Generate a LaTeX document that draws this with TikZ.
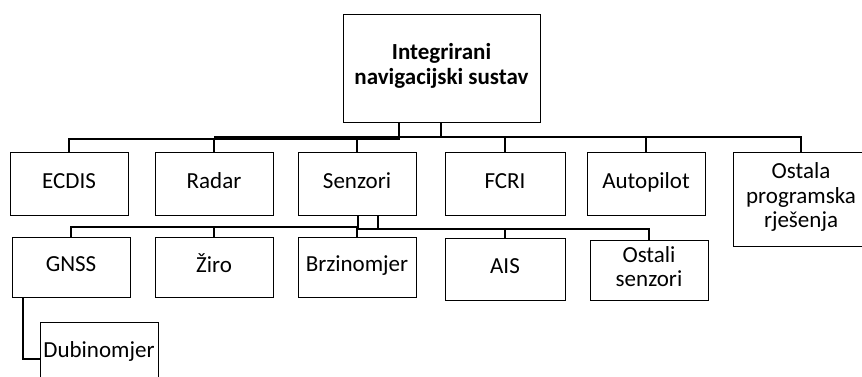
\documentclass[tikz,border=0pt]{standalone}
\usepackage{fontspec}
\setmainfont{Carlito}
\usetikzlibrary{positioning}
\tikzset{
  % plain boxes of the tree, and the heavy elbow links between them
  box/.style  = {draw, line width=1pt, minimum width=118pt, minimum height=62pt,
                 inner sep=2pt, align=center, font=\fontsize{23}{24.5}\selectfont,
                 execute at begin node=\strut, execute at end node=\strut},
  link/.style = {line width=2pt, line join=miter},
}

\begin{document}
\begin{tikzpicture}[x=1pt, y=-1pt]
  \useasboundingbox (0,0) rectangle (862,376);
  % root
  \node[box, minimum width=197pt, minimum height=108pt, font=\fontsize{23}{25}\selectfont\bfseries]
    (ins) at (441.5,68) {Integrirani\\navigacijski sustav};
  % first level
  \node[box, minimum height=63pt] (ecdis) at (69,183.5)  {ECDIS};
  \node[box, minimum height=63pt] (radar) at (214,183.5) {Radar};
  \node[box, minimum height=63pt] (senz)  at (357,183.5) {Senzori};
  \node[box, minimum height=63pt, minimum width=120pt] (fcri) at (505,183.5) {FCRI};
  \node[box, minimum height=63pt] (auto)  at (646,183.5) {Autopilot};
  \node[box, minimum height=94pt, minimum width=136pt] (prog) at (801,199) {Ostala\\programska\\rješenja};
  % second level, under the sensors
  \node[box, minimum height=60pt] (gnss) at (71,267)  {GNSS};
  \node[box, minimum height=60pt] (ziro) at (214,267) {Žiro};
  \node[box, minimum height=60pt] (brz)  at (357,267) {Brzinomjer};
  \node[box, minimum width=120pt] (ais)  at (505,269) {AIS};
  \node[box, minimum height=60pt] (osen) at (649,270) {Ostali\\senzori};
  \node[box] (dub) at (99,353) {Dubinomjer};

  % bus points
  \coordinate (hubL) at (399,139);
  \coordinate (hubR) at (441,137);
  \coordinate (subL) at (358,227);
  \coordinate (subR) at (378,229);
  \coordinate (drop) at (23,0);

  % root -> first level
  \foreach \n in {ecdis,radar,senz}
    \draw[link] (ins.south -| hubL) -- (hubL) -| (\n.north);
  \foreach \n in {fcri,auto,prog}
    \draw[link] (ins.south -| hubR) -- (hubR) -| (\n.north);
  \draw[link] (hubR) -- (radar.north |- hubR);
  % sensors -> second level
  \foreach \n in {gnss,ziro,brz}
    \draw[link] (senz.south -| subL) -- (subL) -| (\n.north);
  \foreach \n in {ais,osen}
    \draw[link] (senz.south -| subR) -- (subR) -| (\n.north);
  \draw[link] (subR) -- (subL |- subR);
  % GNSS -> depth sounder
  \draw[link] (gnss.south -| drop) |- ([yshift=-6pt]dub.west);
\end{tikzpicture}
\end{document}
